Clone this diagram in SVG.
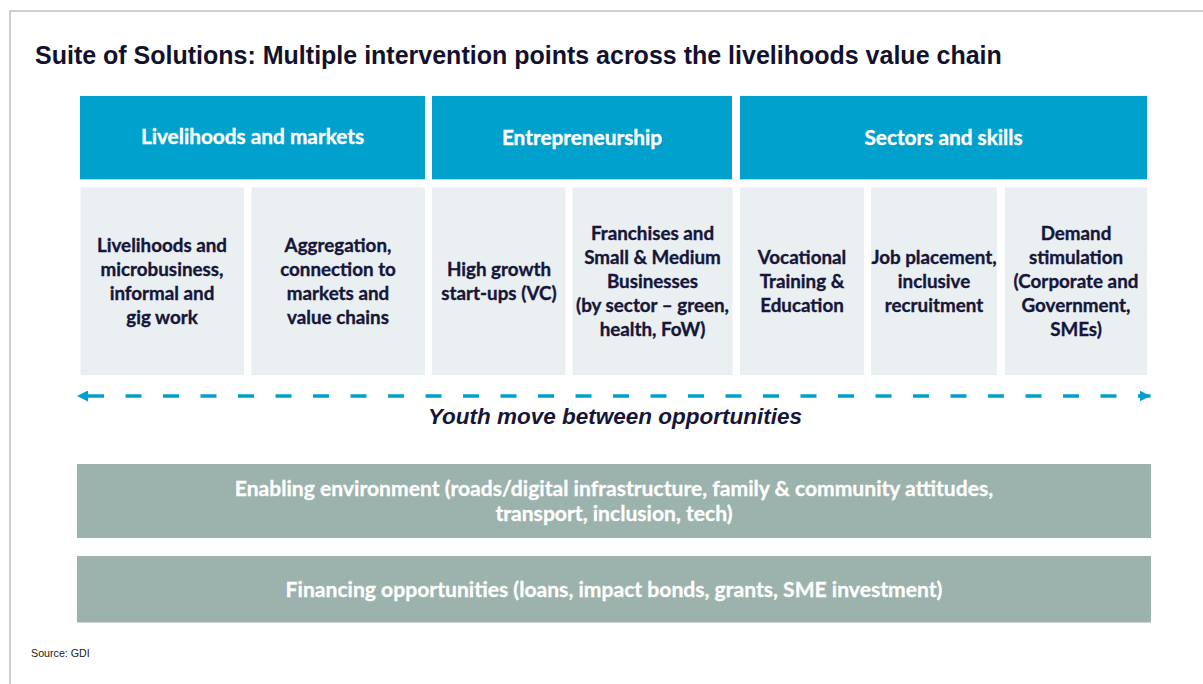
<svg xmlns="http://www.w3.org/2000/svg" width="1203" height="684" viewBox="0 0 1203 684">
<defs>
<style>
.hdr{fill:#00A1CC}
.hline{stroke:#A8DDEC;stroke-width:1}
.sub{fill:#EAEFF2}
.bar{fill:#9CB2AC}
.ht{font-family:Lato,"Open Sans",sans-serif;font-weight:700;font-size:20.8px;fill:#FFFFFF;stroke:#FFFFFF;stroke-width:0.35;text-anchor:middle}
.st{font-family:Lato,"Open Sans",sans-serif;font-weight:700;font-size:18.8px;fill:#16163A;stroke:#16163A;stroke-width:0.35;text-anchor:middle}
.bt{font-family:Lato,"Open Sans",sans-serif;font-weight:700;font-size:21.1px;fill:#FFFFFF;stroke:#FFFFFF;stroke-width:0.3;text-anchor:middle}
</style>
<marker id="ahR" markerWidth="12" markerHeight="12" refX="11" refY="5.5" orient="auto" markerUnits="userSpaceOnUse">
<path d="M0,0 L11,5.5 L0,11 Z" fill="#00A1CC"/>
</marker>
<marker id="ahL" markerWidth="12" markerHeight="12" refX="0" refY="5.5" orient="auto" markerUnits="userSpaceOnUse">
<path d="M11,0 L0,5.5 L11,11 Z" fill="#00A1CC"/>
</marker>
</defs>
<rect width="1203" height="684" fill="#FFFFFF"/>
<rect x="10" y="11" width="1210" height="700" fill="none" stroke="#BEBEBE" stroke-width="1.5"/>
<text x="35" y="64" font-family="'Liberation Sans',Arial,sans-serif" font-weight="700" font-size="25" fill="#12122E">Suite of Solutions: Multiple intervention points across the livelihoods value chain</text>

<g id="hdr-livelihoods">
<rect class="hdr" x="80" y="96" width="345" height="84"/>
<line class="hline" x1="80" y1="179.5" x2="425" y2="179.5"/>
<text class="ht" x="252.5" y="144">Livelihoods and markets</text>
</g>
<g id="hdr-entrepreneurship">
<rect class="hdr" x="432" y="96" width="300" height="84"/>
<line class="hline" x1="432" y1="179.5" x2="732" y2="179.5"/>
<text class="ht" x="582" y="145">Entrepreneurship</text>
</g>
<g id="hdr-sectors">
<rect class="hdr" x="740" y="96" width="407" height="84"/>
<line class="hline" x1="740" y1="179.5" x2="1147" y2="179.5"/>
<text class="ht" x="943.5" y="145">Sectors and skills</text>
</g>

<g id="box-livelihoods">
<rect class="sub" x="80.5" y="187.5" width="163.5" height="187.5"/>
<text class="st" x="162" y="252">Livelihoods and</text>
<text class="st" x="162" y="276">microbusiness,</text>
<text class="st" x="162" y="300">informal and</text>
<text class="st" x="162" y="324">gig work</text>
</g>
<g id="box-aggregation">
<rect class="sub" x="251.5" y="187.5" width="173.5" height="187.5"/>
<text class="st" x="338" y="252">Aggregation,</text>
<text class="st" x="338" y="276">connection to</text>
<text class="st" x="338" y="300">markets and</text>
<text class="st" x="338" y="324">value chains</text>
</g>
<g id="box-highgrowth">
<rect class="sub" x="432" y="187.5" width="133.5" height="187.5"/>
<text class="st" x="499" y="276">High growth</text>
<text class="st" x="499" y="300">start-ups (VC)</text>
</g>
<g id="box-franchises">
<rect class="sub" x="572.5" y="187.5" width="160" height="187.5"/>
<text class="st" x="652.5" y="240">Franchises and</text>
<text class="st" x="652.5" y="264">Small &amp; Medium</text>
<text class="st" x="652.5" y="288">Businesses</text>
<text class="st" x="652.5" y="312">(by sector – green,</text>
<text class="st" x="652.5" y="336">health, FoW)</text>
</g>
<g id="box-vocational">
<rect class="sub" x="740" y="187.5" width="124" height="187.5"/>
<text class="st" x="802" y="264">Vocational</text>
<text class="st" x="802" y="288">Training &amp;</text>
<text class="st" x="802" y="312">Education</text>
</g>
<g id="box-jobplacement">
<rect class="sub" x="871" y="187.5" width="126" height="187.5"/>
<text class="st" x="934" y="264">Job placement,</text>
<text class="st" x="934" y="288">inclusive</text>
<text class="st" x="934" y="312">recruitment</text>
</g>
<g id="box-demand">
<rect class="sub" x="1005" y="187.5" width="142" height="187.5"/>
<text class="st" x="1076" y="240">Demand</text>
<text class="st" x="1076" y="264">stimulation</text>
<text class="st" x="1076" y="288">(Corporate and</text>
<text class="st" x="1076" y="312">Government,</text>
<text class="st" x="1076" y="336">SMEs)</text>
</g>

<g id="connectors">
<line x1="77" y1="396" x2="1150.5" y2="396" stroke="#00A1CC" stroke-width="3.3" stroke-dasharray="0 11 16 10.5" marker-start="url(#ahL)" marker-end="url(#ahR)"/>
</g>
<text x="615" y="424" font-family="'Liberation Sans',Arial,sans-serif" font-weight="700" font-style="italic" font-size="22.5" fill="#16163A" text-anchor="middle">Youth move between opportunities</text>

<g id="bar-enabling">
<rect class="bar" x="77" y="464" width="1074" height="74"/>
<text class="bt" x="614" y="496">Enabling environment (roads/digital infrastructure, family &amp; community attitudes,</text>
<text class="bt" x="614" y="521">transport, inclusion, tech)</text>
</g>
<g id="bar-financing">
<rect class="bar" x="77" y="556" width="1074" height="66.5"/>
<text class="bt" x="614" y="597">Financing opportunities (loans, impact bonds, grants, SME investment)</text>
</g>
<text x="31" y="657" font-family="'Liberation Sans',Arial,sans-serif" font-size="10.7" fill="#222222">Source: GDI</text>
</svg>
